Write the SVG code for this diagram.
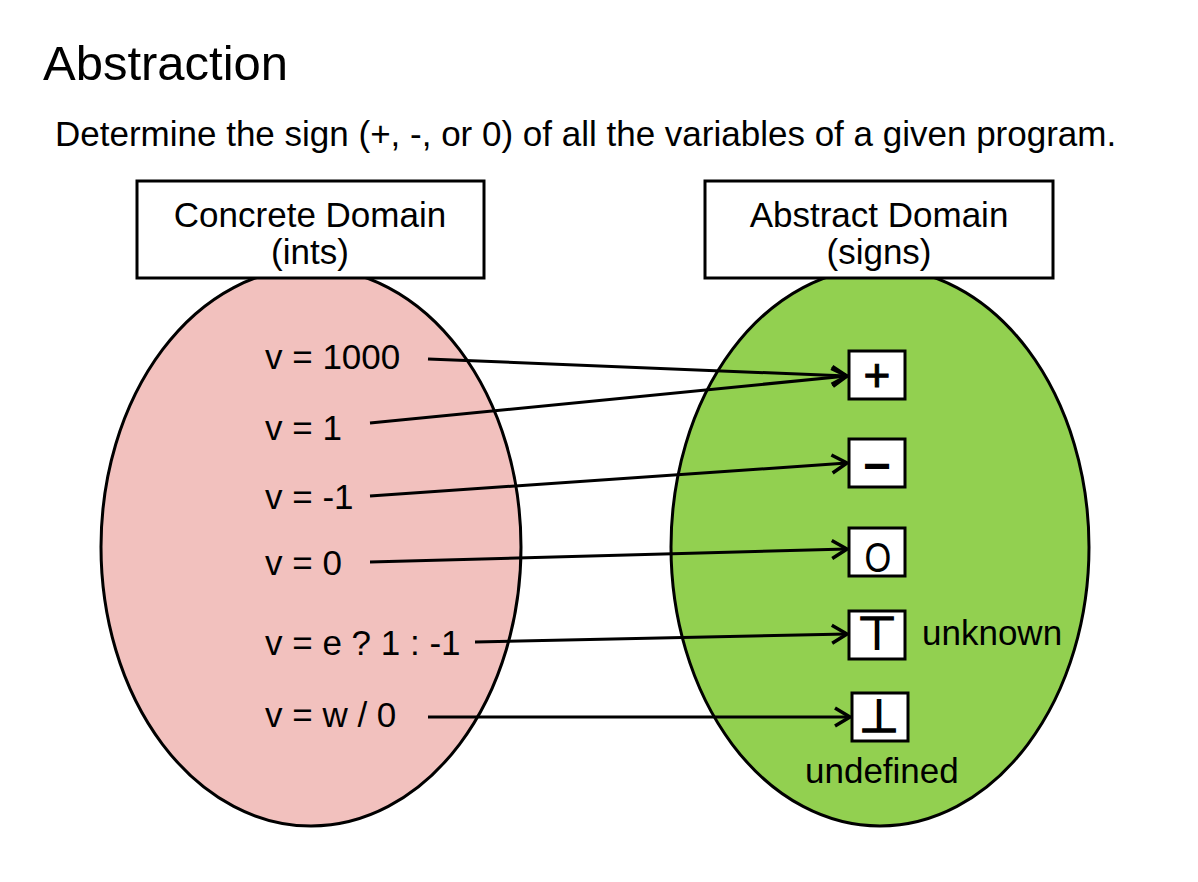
<svg xmlns="http://www.w3.org/2000/svg" width="1198" height="882" viewBox="0 0 1198 882">
<style>
text{font-family:"Liberation Sans",Arial,sans-serif;fill:#000}
.lbl{font-size:35px}
.hdr{font-size:35px;text-anchor:middle}
.box{fill:#fff;stroke:#000;stroke-width:3}
.sym{text-anchor:middle}
.tack{font-family:"DejaVu Sans",sans-serif;font-size:46px;text-anchor:middle;stroke:#000;stroke-width:1.6}
.conn line{stroke:#000;stroke-width:3;fill:none}
</style>
<defs>
<marker id="arr" markerWidth="20" markerHeight="22" refX="17" refY="11" orient="auto" markerUnits="userSpaceOnUse">
<path d="M2,2 L17,11 L2,20" fill="none" stroke="#000" stroke-width="3.5"/>
</marker>
</defs>
<rect width="1198" height="882" fill="#fff"/>
<text x="43" y="80" style="font-size:49px">Abstraction</text>
<text x="55" y="146" style="font-size:35px">Determine the sign (+, -, or 0) of all the variables of a given program.</text>
<g id="concrete">
<ellipse cx="311" cy="547" rx="210" ry="279" fill="#F2C1BE" stroke="#000" stroke-width="3"/>
</g>
<g id="abstract">
<ellipse cx="880" cy="547" rx="209" ry="279" fill="#92D050" stroke="#000" stroke-width="3"/>
</g>
<g id="concrete-header">
<rect class="box" x="137" y="181" width="347" height="97"/>
<text class="hdr" x="310" y="227">Concrete Domain</text>
<text class="hdr" x="310" y="264">(ints)</text>
</g>
<g id="abstract-header">
<rect class="box" x="705" y="181" width="348" height="97"/>
<text class="hdr" x="879" y="227">Abstract Domain</text>
<text class="hdr" x="879" y="264">(signs)</text>
</g>
<g id="c1"><text class="lbl" x="265" y="369">v = 1000</text></g>
<g id="c2"><text class="lbl" x="265" y="440">v = 1</text></g>
<g id="c3"><text class="lbl" x="265" y="509">v = -1</text></g>
<g id="c4"><text class="lbl" x="265" y="575">v = 0</text></g>
<g id="c5"><text class="lbl" x="265" y="655">v = e ? 1 : -1</text></g>
<g id="c6"><text class="lbl" x="265" y="727">v = w / 0</text></g>
<g id="plus"><rect class="box" x="849" y="351" width="56" height="48"/><text class="sym" x="877" y="391" style="font-size:46px;stroke:#000;stroke-width:1">+</text></g>
<g id="minus"><rect class="box" x="849" y="439" width="56" height="48"/><text class="sym" x="877" y="482" style="font-size:48px;font-weight:bold">−</text></g>
<g id="zero"><rect class="box" x="849" y="528" width="56" height="48"/><text class="sym" transform="translate(878,572) scale(0.8,1)" x="0" y="0" style="font-size:43px">O</text></g>
<g id="top"><rect class="box" x="849" y="611" width="56" height="48"/><text class="tack" x="877" y="649">⊤</text><text class="lbl" x="922" y="645">unknown</text></g>
<g id="bottom"><rect class="box" x="852" y="693" width="56" height="48"/><text class="tack" x="879" y="732">⊥</text><text class="lbl" x="805" y="783">undefined</text></g>
<g class="conn" id="connectors">
<line x1="428" y1="359" x2="847" y2="376" marker-end="url(#arr)"/>
<line x1="370" y1="423" x2="847" y2="376" marker-end="url(#arr)"/>
<line x1="370" y1="496" x2="847" y2="463" marker-end="url(#arr)"/>
<line x1="370" y1="562" x2="847" y2="549" marker-end="url(#arr)"/>
<line x1="475" y1="642" x2="847" y2="634" marker-end="url(#arr)"/>
<line x1="428" y1="717" x2="850" y2="717" marker-end="url(#arr)"/>
</g>
</svg>
